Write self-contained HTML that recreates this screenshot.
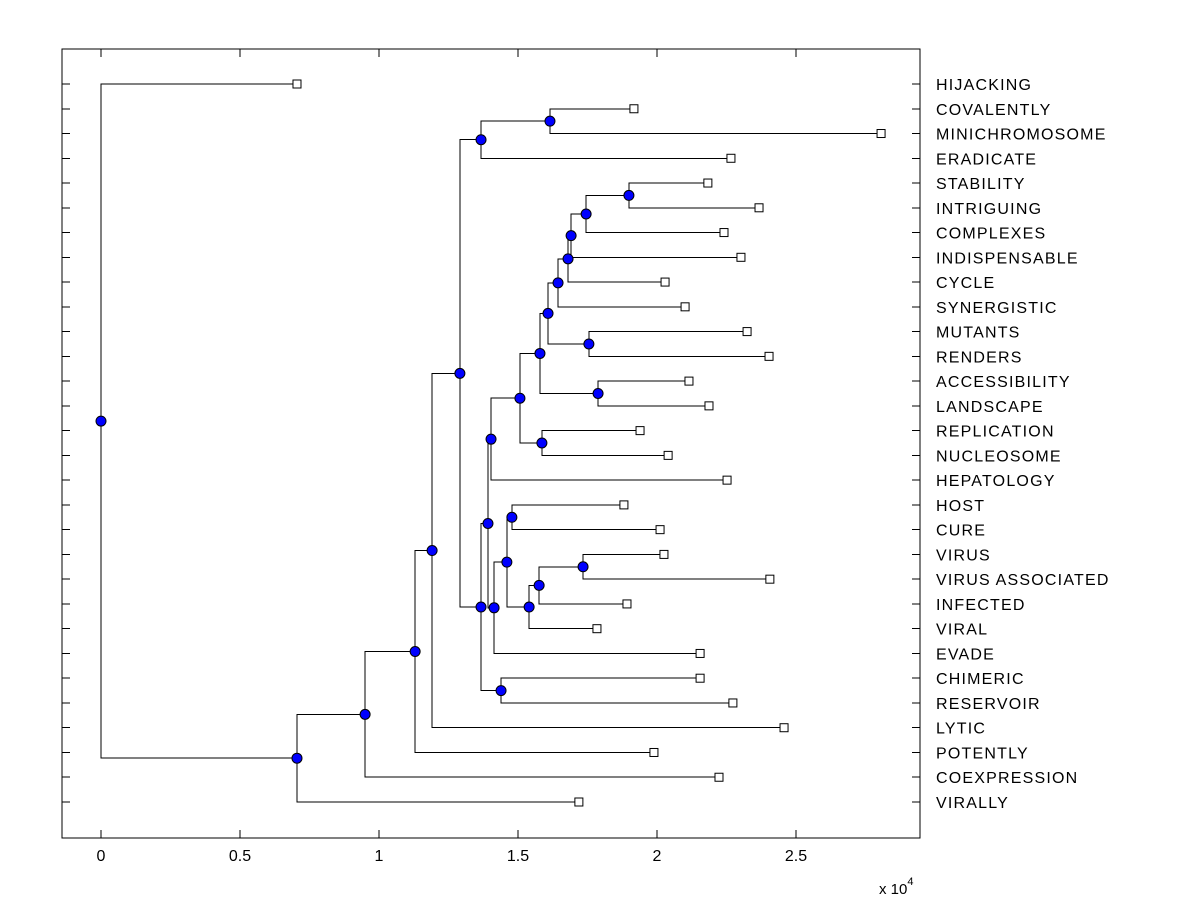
<!DOCTYPE html>
<html><head><meta charset="utf-8"><style>
body{margin:0;background:#fff}
svg text{font-family:"Liberation Sans",Arial,sans-serif;fill:#000}
</style></head><body>
<svg id="chart" width="1200" height="900" xmlns="http://www.w3.org/2000/svg">
<rect x="0" y="0" width="1200" height="900" fill="#fff"/>
<g id="tree"></g>
<g id="axes"></g>
</svg>
<script>
// Leaf labels (top to bottom) and leaf distances (x10^4)
const leafNames = ["HIJACKING","COVALENTLY","MINICHROMOSOME","ERADICATE","STABILITY","INTRIGUING","COMPLEXES","INDISPENSABLE","CYCLE","SYNERGISTIC","MUTANTS","RENDERS","ACCESSIBILITY","LANDSCAPE","REPLICATION","NUCLEOSOME","HEPATOLOGY","HOST","CURE","VIRUS","VIRUS ASSOCIATED","INFECTED","VIRAL","EVADE","CHIMERIC","RESERVOIR","LYTIC","POTENTLY","COEXPRESSION","VIRALLY"];
const leafDist = [0.705,1.917,2.806,2.266,2.183,2.367,2.241,2.302,2.029,2.101,2.324,2.403,2.115,2.187,1.939,2.040,2.252,1.881,2.011,2.025,2.406,1.892,1.784,2.155,2.155,2.273,2.457,1.989,2.223,1.719];
// Internal nodes: name, distance, children (leaf index as number, node as string)
const nodeNames = ["root","A","B","C","D","E","F","F1","G","G1","H","K","L","X","W","V","T","S","Q","MR","AL","NUC","J","M","HC","N","O","P","R"];
const nodeDist = [0,0.705,0.950,1.130,1.191,1.291,1.367,1.615,1.367,1.392,1.403,1.507,1.579,1.608,1.644,1.680,1.691,1.745,1.899,1.755,1.788,1.586,1.414,1.460,1.478,1.540,1.576,1.734,1.439];
const nodeKids = [[0,"A"],["B",29],["C",28],["D",27],["E",26],["F","G"],["F1",3],[1,2],["G1","R"],["H","J"],["K",16],["L","NUC"],["X","AL"],["W","MR"],["V",9],["T",8],["S",7],["Q",6],[4,5],[10,11],[12,13],[14,15],["M",23],["HC","N"],[17,18],["O",22],["P",21],[19,20],[24,25]];
const xTicks = [0,0.5,1,1.5,2,2.5];
const xTickLabels = ["0","0.5","1","1.5","2","2.5"];

const NS="http://www.w3.org/2000/svg";
const L=62,R=920,T=49,B=838;
const xs=v=>101+v*278;
const ys=i=>84+i*(718/29);
function mk(tag,attrs,parent){const e=document.createElementNS(NS,tag);for(const k in attrs)e.setAttribute(k,attrs[k]);parent.appendChild(e);return e;}
const tree=document.getElementById('tree'), axes=document.getElementById('axes');

const idx={};nodeNames.forEach((n,i)=>idx[n]=i);
const nodeY={};
function yOf(c){if(typeof c==='number')return ys(c);const i=idx[c];if(nodeY[c]===undefined){const k=nodeKids[i];nodeY[c]=(yOf(k[0])+yOf(k[1]))/2;}return nodeY[c];}
function xOf(c){return typeof c==='number'?xs(leafDist[c]):xs(nodeDist[idx[c]]);}
nodeNames.forEach(n=>yOf(n));
nodeNames.forEach((n,i)=>{
  const x=xs(nodeDist[i]);const k=nodeKids[i];
  const y0=yOf(k[0]),y1=yOf(k[1]);
  const p=mk('path',{d:`M${xOf(k[0])},${y0}H${x}V${y1}H${xOf(k[1])}`,fill:'none',stroke:'#000','stroke-width':1,'shape-rendering':'crispEdges'},tree);
  
  
});
leafNames.forEach((nm,i)=>{
  const r=mk('rect',{x:xs(leafDist[i])-4,y:ys(i)-4,width:8,height:8,fill:'#fff',stroke:'#000','stroke-width':1},tree);
  
  
});
nodeNames.forEach((n,i)=>{
  const c=mk('circle',{cx:xs(nodeDist[i]),cy:nodeY[n],r:5,fill:'#0000ff',stroke:'#000','stroke-width':1},tree);
  
  
});
const box=mk('rect',{x:L,y:T,width:R-L,height:B-T,fill:'none',stroke:'#000','stroke-width':1,'shape-rendering':'crispEdges'},axes);


xTicks.forEach((v,i)=>{
  const x=xs(v);
  const t=mk('path',{d:`M${x},${B}V${B-8}M${x},${T}V${T+8}`,stroke:'#000','stroke-width':1,'shape-rendering':'crispEdges'},axes);
  
  
  const tx=mk('text',{x:x,y:861,'font-size':16,'text-anchor':'middle'},axes);
  tx.textContent=xTickLabels[i];
  
  
});
leafNames.forEach((nm,i)=>{
  const y=ys(i);
  const t=mk('path',{d:`M${L},${y}H${L+8}M${R},${y}H${R-8}`,stroke:'#000','stroke-width':1,'shape-rendering':'crispEdges'},axes);
  
  
  const tx=mk('text',{x:936,y:y+6,'font-size':16,'letter-spacing':'1.2'},axes);
  tx.textContent=nm;
  
  
});
const ex=mk('text',{x:879,y:894,'font-size':15},axes);
ex.innerHTML='x 10<tspan dy="-9" font-size="11">4</tspan>';


</script>
</body></html>
